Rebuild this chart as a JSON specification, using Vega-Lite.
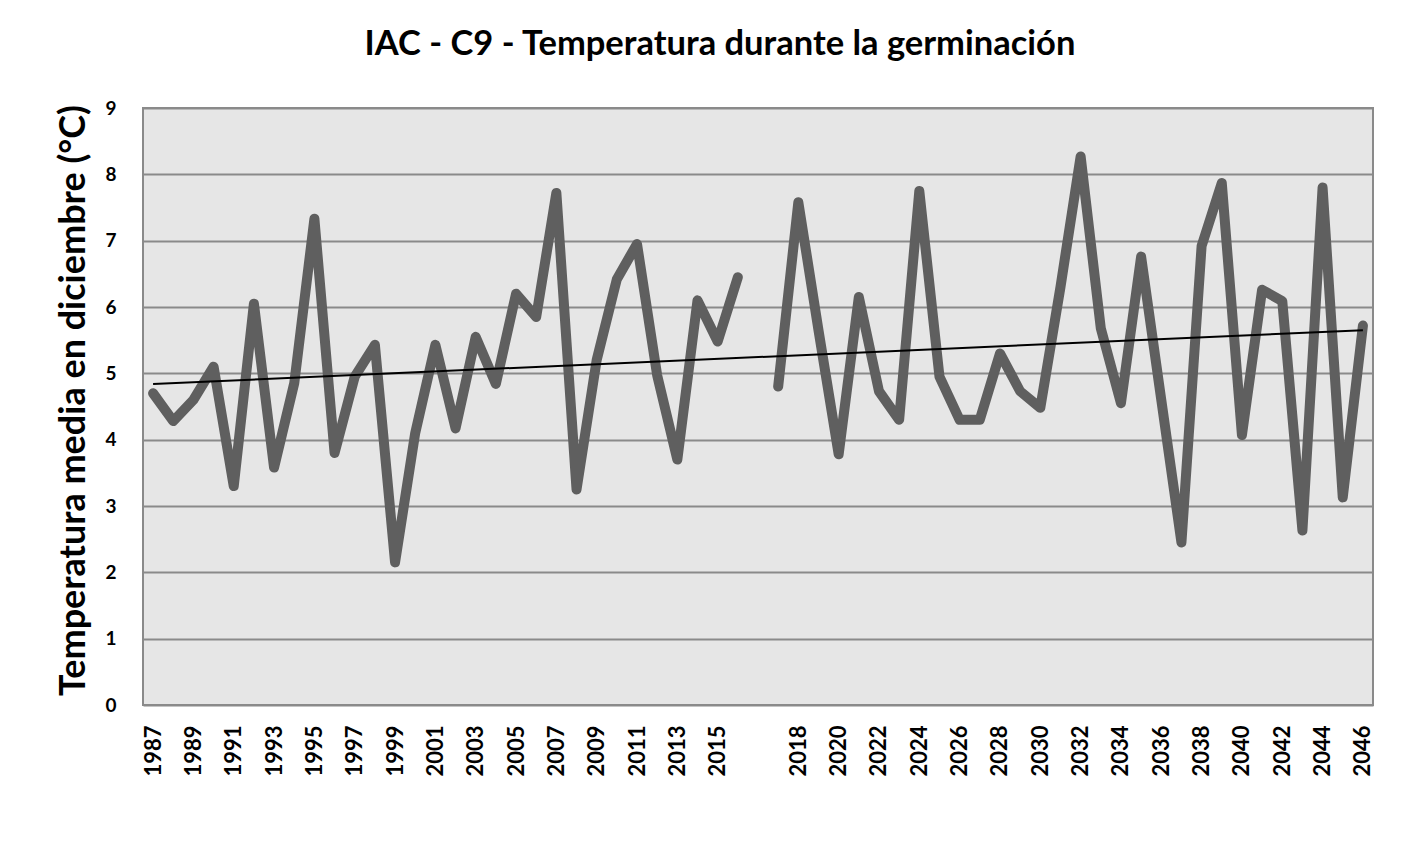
{
  "$schema": "https://vega.github.io/schema/vega-lite/v6.json",
  "autosize": {"type": "none"},
  "width": 1230,
  "height": 597,
  "padding": {"left": 143, "top": 108, "right": 42, "bottom": 138},
  "background": "white",
  "title": {
    "text": "IAC - C9 - Temperatura durante la germinación",
    "font": "Lato",
    "fontSize": 34.5,
    "fontWeight": "bold",
    "color": "#000000",
    "anchor": "middle",
    "dx": -38,
    "offset": 37
  },
  "config": {
    "view": {"fill": "#e6e6e6", "stroke": "#8a8a8a", "strokeWidth": 2}
  },
  "encoding": {
    "x": {
      "field": "year",
      "type": "ordinal",
      "sort": null,
      "scale": {
        "type": "point",
        "padding": 0.5,
        "domain": ["1987","1988","1989","1990","1991","1992","1993","1994","1995","1996","1997","1998","1999","2000","2001","2002","2003","2004","2005","2006","2007","2008","2009","2010","2011","2012","2013","2014","2015","2016"," ","2017","2018","2019","2020","2021","2022","2023","2024","2025","2026","2027","2028","2029","2030","2031","2032","2033","2034","2035","2036","2037","2038","2039","2040","2041","2042","2043","2044","2045","2046"]
      },
      "axis": {
        "title": null,
        "values": ["1987","1989","1991","1993","1995","1997","1999","2001","2003","2005","2007","2009","2011","2013","2015","2018","2020","2022","2024","2026","2028","2030","2032","2034","2036","2038","2040","2042","2044","2046"],
        "labelAngle": -90,
        "labelFont": "Lato",
        "labelFontSize": 22,
        "labelFontWeight": "bold",
        "labelColor": "#000000",
        "labelPadding": 20,
        "ticks": false,
        "domain": false,
        "grid": false
      }
    }
  },
  "layer": [
    {
      "data": {
        "values": [
          {"year": "1987", "temp": 4.70, "period": "1987-2016"},
          {"year": "1988", "temp": 4.28, "period": "1987-2016"},
          {"year": "1989", "temp": 4.60, "period": "1987-2016"},
          {"year": "1990", "temp": 5.10, "period": "1987-2016"},
          {"year": "1991", "temp": 3.30, "period": "1987-2016"},
          {"year": "1992", "temp": 6.05, "period": "1987-2016"},
          {"year": "1993", "temp": 3.58, "period": "1987-2016"},
          {"year": "1994", "temp": 4.85, "period": "1987-2016"},
          {"year": "1995", "temp": 7.33, "period": "1987-2016"},
          {"year": "1996", "temp": 3.80, "period": "1987-2016"},
          {"year": "1997", "temp": 4.95, "period": "1987-2016"},
          {"year": "1998", "temp": 5.43, "period": "1987-2016"},
          {"year": "1999", "temp": 2.15, "period": "1987-2016"},
          {"year": "2000", "temp": 4.10, "period": "1987-2016"},
          {"year": "2001", "temp": 5.43, "period": "1987-2016"},
          {"year": "2002", "temp": 4.17, "period": "1987-2016"},
          {"year": "2003", "temp": 5.55, "period": "1987-2016"},
          {"year": "2004", "temp": 4.84, "period": "1987-2016"},
          {"year": "2005", "temp": 6.20, "period": "1987-2016"},
          {"year": "2006", "temp": 5.85, "period": "1987-2016"},
          {"year": "2007", "temp": 7.72, "period": "1987-2016"},
          {"year": "2008", "temp": 3.25, "period": "1987-2016"},
          {"year": "2009", "temp": 5.20, "period": "1987-2016"},
          {"year": "2010", "temp": 6.42, "period": "1987-2016"},
          {"year": "2011", "temp": 6.95, "period": "1987-2016"},
          {"year": "2012", "temp": 4.97, "period": "1987-2016"},
          {"year": "2013", "temp": 3.70, "period": "1987-2016"},
          {"year": "2014", "temp": 6.10, "period": "1987-2016"},
          {"year": "2015", "temp": 5.48, "period": "1987-2016"},
          {"year": "2016", "temp": 6.45, "period": "1987-2016"},
          {"year": "2017", "temp": 4.80, "period": "2017-2046"},
          {"year": "2018", "temp": 7.58, "period": "2017-2046"},
          {"year": "2019", "temp": 5.65, "period": "2017-2046"},
          {"year": "2020", "temp": 3.78, "period": "2017-2046"},
          {"year": "2021", "temp": 6.15, "period": "2017-2046"},
          {"year": "2022", "temp": 4.73, "period": "2017-2046"},
          {"year": "2023", "temp": 4.30, "period": "2017-2046"},
          {"year": "2024", "temp": 7.75, "period": "2017-2046"},
          {"year": "2025", "temp": 4.95, "period": "2017-2046"},
          {"year": "2026", "temp": 4.30, "period": "2017-2046"},
          {"year": "2027", "temp": 4.30, "period": "2017-2046"},
          {"year": "2028", "temp": 5.30, "period": "2017-2046"},
          {"year": "2029", "temp": 4.73, "period": "2017-2046"},
          {"year": "2030", "temp": 4.48, "period": "2017-2046"},
          {"year": "2031", "temp": 6.30, "period": "2017-2046"},
          {"year": "2032", "temp": 8.27, "period": "2017-2046"},
          {"year": "2033", "temp": 5.68, "period": "2017-2046"},
          {"year": "2034", "temp": 4.55, "period": "2017-2046"},
          {"year": "2035", "temp": 6.76, "period": "2017-2046"},
          {"year": "2036", "temp": 4.60, "period": "2017-2046"},
          {"year": "2037", "temp": 2.45, "period": "2017-2046"},
          {"year": "2038", "temp": 6.92, "period": "2017-2046"},
          {"year": "2039", "temp": 7.87, "period": "2017-2046"},
          {"year": "2040", "temp": 4.07, "period": "2017-2046"},
          {"year": "2041", "temp": 6.26, "period": "2017-2046"},
          {"year": "2042", "temp": 6.09, "period": "2017-2046"},
          {"year": "2043", "temp": 2.63, "period": "2017-2046"},
          {"year": "2044", "temp": 7.80, "period": "2017-2046"},
          {"year": "2045", "temp": 3.13, "period": "2017-2046"},
          {"year": "2046", "temp": 5.72, "period": "2017-2046"}
        ]
      },
      "mark": {"type": "line", "color": "#5f5f5f", "strokeWidth": 10, "strokeJoin": "round", "strokeCap": "round"},
      "encoding": {
        "y": {
          "field": "temp",
          "type": "quantitative",
          "scale": {"domain": [0, 9], "nice": false, "zero": true},
          "axis": {
            "title": "Temperatura media en diciembre (°C)",
            "titleFont": "Lato",
            "titleFontSize": 36,
            "titleFontWeight": "bold",
            "titleColor": "#000000",
            "titlePadding": 12,
            "titleY": 292,
            "values": [0, 1, 2, 3, 4, 5, 6, 7, 8, 9],
            "format": "d",
            "labelFont": "Lato",
            "labelFontSize": 19,
            "labelFontWeight": "bold",
            "labelColor": "#000000",
            "labelPadding": 27,
            "ticks": false,
            "domain": false,
            "grid": true,
            "gridColor": "#8a8a8a",
            "gridWidth": 2
          }
        },
        "detail": {"field": "period"}
      }
    },
    {
      "data": {
        "values": [
          {"year": "1987", "trend": 4.84},
          {"year": "2046", "trend": 5.65}
        ]
      },
      "mark": {"type": "line", "color": "#000000", "strokeWidth": 2},
      "encoding": {
        "y": {"field": "trend", "type": "quantitative"}
      }
    }
  ]
}
